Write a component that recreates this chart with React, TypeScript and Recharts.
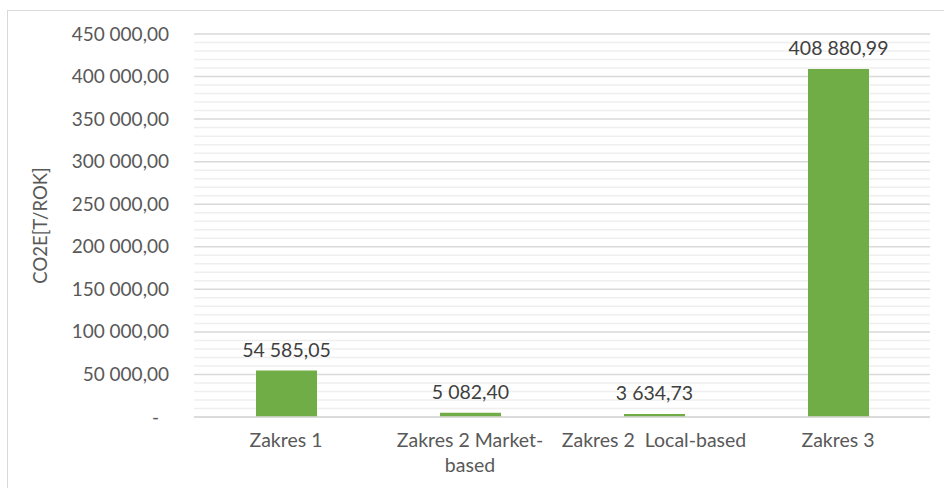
import React from 'react';
import { BarChart, Bar, XAxis, YAxis, CartesianGrid, LabelList, Label } from 'recharts';

const categories = ['Zakres 1', 'Zakres 2 Market-\nbased', 'Zakres 2  Local-based', 'Zakres 3'];
const emissions = [54585.05, 5082.4, 3634.73, 408880.99];
const yTicks = [0, 50000, 100000, 150000, 200000, 250000, 300000, 350000, 400000, 450000];
const minorTicks = [
  10000, 20000, 30000, 40000, 60000, 70000, 80000, 90000, 110000, 120000, 130000, 140000,
  160000, 170000, 180000, 190000, 210000, 220000, 230000, 240000, 260000, 270000, 280000, 290000,
  310000, 320000, 330000, 340000, 360000, 370000, 380000, 390000, 410000, 420000, 430000, 440000,
];
const yLabel = 'CO2E[T/ROK]';

const data = categories.map((c, i) => ({ name: c, value: emissions[i] }));

const FONT = 'Lato, "Open Sans", sans-serif';

function fmt(v: number): string {
  const [intPart, dec] = v.toFixed(2).split('.');
  const grouped = intPart.replace(/\B(?=(\d{3})+(?!\d))/g, ' ');
  return grouped + ',' + dec;
}

const YTick = (props: any) => {
  const { x, y, payload } = props;
  const v = payload.value;
  return (
    <text x={v === 0 ? x - 10 : x} y={y} dy={6.5} textAnchor="end" fill="#595959" fontSize={19} fontFamily={FONT}>
      {v === 0 ? '-' : fmt(v)}
    </text>
  );
};

const XTick = (props: any) => {
  const { x, y, payload } = props;
  const lines = String(payload.value).split('\n');
  return (
    <g>
      {lines.map((l, i) => (
        <text
          key={i}
          x={x}
          y={y + 22 + i * 25}
          textAnchor="middle"
          fill="#595959"
          fontSize={19.5}
          fontFamily={FONT}
          style={{ whiteSpace: 'pre' }}
        >
          {l}
        </text>
      ))}
    </g>
  );
};

const BarValueLabel = (props: any) => {
  const { x, y, width, value } = props;
  return (
    <text
      x={x + width / 2}
      y={y - 14}
      textAnchor="middle"
      fill="#404040"
      fontSize={19.5}
      fontFamily={FONT}
    >
      {fmt(Number(value))}
    </text>
  );
};

const YLabelContent = (props: any) => {
  const { viewBox } = props;
  const cx = viewBox.x + 40;
  const cy = viewBox.y + viewBox.height / 2;
  return (
    <text
      x={cx}
      y={cy}
      transform={`rotate(-90, ${cx}, ${cy})`}
      textAnchor="middle"
      dominantBaseline="central"
      fill="#595959"
      fontSize={18.5}
      fontFamily={FONT}
    >
      {yLabel}
    </text>
  );
};

export default function App() {
  return (
    <div style={{ position: 'absolute', left: 0, top: 0, width: 944, height: 488, background: '#fff' }}>
      <div
        style={{
          position: 'absolute',
          left: 7,
          top: 10,
          width: 944,
          height: 488,
          borderLeft: '1.5px solid #d9d9d9',
          borderTop: '1.5px solid #d9d9d9',
        }}
      />
      <div style={{ position: 'absolute', left: 0, top: 0 }}>
        <BarChart width={944} height={488} data={data} margin={{ top: 34, right: 14, bottom: 21, left: 0 }} barCategoryGap={0}>
          <CartesianGrid horizontal vertical={false} horizontalValues={minorTicks} stroke="#efefef" strokeWidth={1.5} />
          <CartesianGrid horizontal vertical={false} horizontalValues={yTicks} stroke="#d9d9d9" strokeWidth={1.5} />
          <XAxis
            dataKey="name"
            height={50}
            axisLine={{ stroke: '#d9d9d9', strokeWidth: 1.5 }}
            tickLine={false}
            tick={<XTick />}
            interval={0}
          />
          <YAxis
            width={194}
            domain={[0, 450000]}
            ticks={yTicks}
            axisLine={false}
            tickLine={false}
            tickMargin={19}
            tick={<YTick />}
            interval={0}
          >
            <Label content={<YLabelContent />} />
          </YAxis>
          <Bar dataKey="value" fill="#70ad47" barSize={61} isAnimationActive={false}>
            <LabelList dataKey="value" content={<BarValueLabel />} />
          </Bar>
        </BarChart>
      </div>
    </div>
  );
}
